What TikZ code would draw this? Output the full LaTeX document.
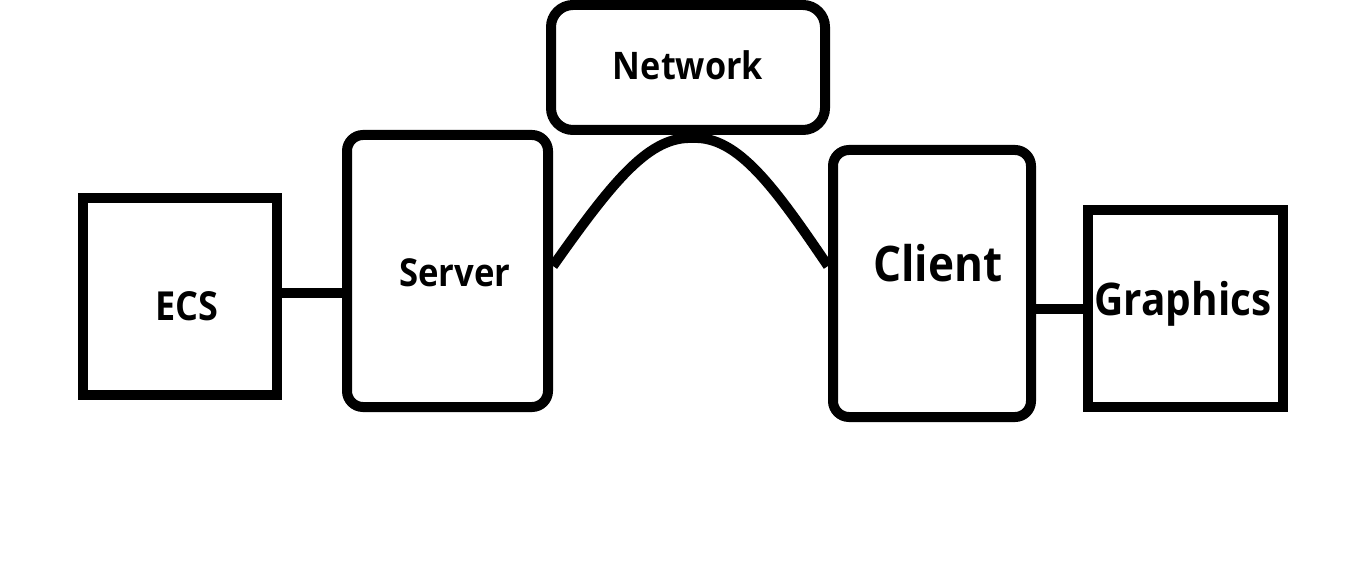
\documentclass[tikz,border=0pt]{standalone}
\usepackage{fontspec}
\newfontfamily\lblfont[FakeStretch=0.9]{Open Sans}
\begin{document}
\begin{tikzpicture}[x=1pt,y=-1pt,
  sqbox/.style={draw, line width=10pt, inner sep=0pt},
  rbox/.style={draw, line width=10pt, rounded corners=16pt, inner sep=0pt},
  wire/.style={line width=10pt},
  lbl/.style={anchor=base, inner sep=0pt, font=\lblfont\bfseries\fontsize{#1}{#1}\selectfont}
]
\useasboundingbox (0,0) rectangle (1350,580);

% boxes
\node[sqbox, minimum width=194pt, minimum height=197pt] (ecs) at (180,296.5) {};
\node[rbox, minimum width=201pt, minimum height=272pt] (server) at (447.5,271) {};
\node[rbox, rounded corners=22pt, minimum width=274pt, minimum height=125pt] (network) at (688,67.5) {};
\node[rbox, minimum width=198pt, minimum height=267pt] (client) at (932,283.5) {};
\node[sqbox, minimum width=195pt, minimum height=197pt] (graphics) at (1185.5,308.5) {};

% labels
\node[lbl=40] (ecstext) at (187,320) {ECS};
\node[lbl=38.5] (servertext) at (455,287) {Server};
\node[lbl=38] (networktext) at (688,80) {Network};
\node[lbl=49] (clienttext) at (938,282) {Client};
\node[lbl=45] (graphicstext) at (1183,316) {Graphics};

% connectors
\coordinate (peak) at ([yshift=-3pt]network.south -| 693,0);
\draw[wire] ([yshift=3.5pt]ecs.east) -- ([yshift=3.5pt]ecs.east -| server.west);
\draw[wire] ([yshift=5pt]server.east) .. controls (615,178) and (650,136) .. (peak)
  .. controls (738,136) and (775,188) .. ([yshift=17.5pt]client.west);
\draw[wire] (client.east |- graphics.west) -- (graphics.west);
\end{tikzpicture}
\end{document}
